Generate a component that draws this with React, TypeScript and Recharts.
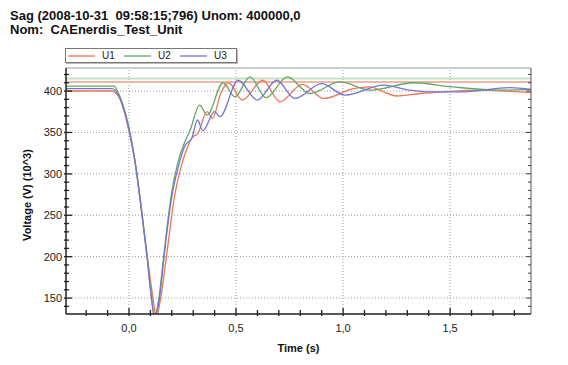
import React from 'react';
import { LineChart, Line, XAxis, YAxis, ReferenceLine, Legend } from 'recharts';

const FONT = "'Liberation Sans', Arial, sans-serif";

const titleLine1 = 'Sag (2008-10-31  09:58:15;796) Unom: 400000,0';
const titleLine2 = 'Nom:  CAEnerdis_Test_Unit';

// phase voltages (kV)
const u1Time = [-0.3, -0.08, -0.05, -0.03, 0, 0.03, 0.06, 0.09, 0.115, 0.128, 0.145, 0.17, 0.19, 0.21, 0.24, 0.27, 0.3, 0.32, 0.365, 0.39, 0.43, 0.465, 0.53, 0.625, 0.705, 0.81, 0.91, 1.05, 1.12, 1.25, 1.36, 1.47, 1.63, 1.88];
const u1Volt = [400, 400, 394, 382, 352, 312, 252, 192, 145, 127, 145, 190, 230, 268, 305, 330, 345, 348, 375, 367, 398, 410, 389, 413, 387, 408, 391, 403, 405, 394, 397, 399, 401, 398];

const u2Time = [-0.3, -0.07, -0.05, -0.03, 0, 0.03, 0.06, 0.085, 0.105, 0.118, 0.14, 0.16, 0.18, 0.2, 0.23, 0.26, 0.285, 0.33, 0.365, 0.44, 0.495, 0.565, 0.64, 0.74, 0.845, 0.985, 1.13, 1.33, 1.51, 1.73, 1.88];
const u2Volt = [406, 406, 398, 385, 356, 313, 255, 200, 152, 128, 150, 195, 240, 278, 315, 338, 352, 383, 371, 410, 393, 417, 392, 417, 397, 411, 401, 410, 405, 401, 402];

const u3Time = [-0.3, -0.08, -0.05, -0.03, 0, 0.03, 0.06, 0.085, 0.105, 0.12, 0.14, 0.16, 0.18, 0.2, 0.23, 0.26, 0.295, 0.32, 0.345, 0.4, 0.425, 0.51, 0.6, 0.69, 0.775, 0.9, 1.01, 1.19, 1.31, 1.39, 1.55, 1.78, 1.88];
const u3Volt = [403, 403, 396, 383, 354, 311, 253, 198, 150, 128, 145, 190, 235, 272, 308, 333, 344, 365, 352, 375, 369, 413, 389, 413, 391, 409, 395, 407, 401, 399, 399, 404, 402];

const timeTicks = [-0.2, -0.1, 0, 0.1, 0.2, 0.3, 0.4, 0.5, 0.6, 0.7, 0.8, 0.9, 1, 1.1, 1.2, 1.3, 1.4, 1.5, 1.6, 1.7, 1.8];
const timeGrid = [0, 0.5, 1, 1.5];
const voltTicks = [140, 150, 160, 170, 180, 190, 200, 210, 220, 230, 240, 250, 260, 270, 280, 290, 300, 310, 320, 330, 340, 350, 360, 370, 380, 390, 400, 410, 420];
const voltGrid = [150, 200, 250, 300, 350, 400];

// upper tolerance limits drawn by the recorder
const limitU1 = 411;
const limitU2 = 415;

const timeDomain = [-0.294, 1.878];
const voltDomain = [130.7, 427.8];

const series = [
  { name: 'U1', color: '#ef7453', time: u1Time, volt: u1Volt },
  { name: 'U2', color: '#62a862', time: u2Time, volt: u2Volt },
  { name: 'U3', color: '#7474d8', time: u3Time, volt: u3Volt },
];

const isMajor = (v: number, step: number) => Math.abs(v / step - Math.round(v / step)) < 1e-6;

// ticks point into the plot, longer where a label sits
const LeftTick = ({ x, y, payload }: any) => {
  const major = isMajor(payload.value, 50);
  return (
    <g>
      <rect x={x - 2} y={y - 0.6} width={major ? 8 : 5} height={1.3} fill="#222" />
      {major && (
        <text x={x - 4} y={y} dy={4} textAnchor="end" fontSize={11} fontFamily={FONT} fill="#222">
          {payload.value}
        </text>
      )}
    </g>
  );
};

const BottomTick = ({ x, y, payload }: any) => {
  const major = isMajor(payload.value, 0.5);
  return (
    <g>
      <rect x={x - 0.6} y={y - (major ? 6 : 4)} width={1.3} height={major ? 8 : 6} fill="#222" />
      {major && (
        <text x={x} y={y + 18} textAnchor="middle" fontSize={11} fontFamily={FONT} fill="#222">
          {payload.value.toFixed(1).replace('.', ',')}
        </text>
      )}
    </g>
  );
};

const TopTick = ({ x, y, payload }: any) => (
  <rect x={x - 0.5} y={y} width={1} height={isMajor(payload.value, 0.5) ? 5 : 3} fill="#555" />
);

const RightTick = ({ x, y, payload }: any) => {
  const len = isMajor(payload.value, 50) ? 5 : 3;
  return <rect x={x - len} y={y - 0.5} width={len} height={1} fill="#444" />;
};

const LegendBox = () => (
  <div
    style={{
      display: 'flex',
      alignItems: 'center',
      height: 13,
      border: '1px solid #777',
      boxShadow: '1px 1px 0 #bbb',
      background: '#fff',
      fontFamily: FONT,
      fontSize: 10,
      color: '#222',
      paddingLeft: 2,
    }}
  >
    {series.map((s) => (
      <span key={s.name} style={{ display: 'flex', alignItems: 'center', width: 57.5 }}>
        <svg width={27} height={6} style={{ marginRight: 7 }}>
          <line x1={0} x2={27} y1={3} y2={3} stroke={s.color} strokeWidth={1.3} />
        </svg>
        {s.name}
      </span>
    ))}
  </div>
);

const App = () => {
  return (
    <div style={{ position: 'absolute', left: 0, top: 0, width: 568, height: 365, background: '#fff' }}>
      <div style={{ position: 'absolute', left: 10, top: 9, fontFamily: FONT, fontSize: 13, fontWeight: 'bold', lineHeight: '14px', color: '#111', whiteSpace: 'pre' }}>
        <div>{titleLine1}</div>
        <div>{titleLine2}</div>
      </div>
      <LineChart width={568} height={365} margin={{ top: 67, right: 36, bottom: 0, left: 0 }}>
        <XAxis
          xAxisId="main"
          dataKey="t"
          type="number"
          domain={timeDomain}
          allowDataOverflow
          ticks={timeTicks}
          interval={0}
          tick={<BottomTick />}
          tickLine={false}
          tickSize={0}
          tickMargin={0}
          height={51}
          axisLine={{ stroke: '#222', strokeWidth: 1.5 }}
          label={{
            content: ({ viewBox }: any) => (
              <text x={viewBox.x + viewBox.width / 2} y={viewBox.y + 38} textAnchor="middle" fontSize={11} fontWeight="bold" fontFamily={FONT} fill="#111">
                Time (s)
              </text>
            ),
          }}
        />
        <XAxis
          xAxisId="top"
          orientation="top"
          type="number"
          domain={timeDomain}
          allowDataOverflow
          ticks={timeTicks}
          interval={0}
          tick={<TopTick />}
          tickLine={false}
          tickSize={0}
          tickMargin={0}
          height={1}
          axisLine={{ stroke: '#9a9a9a' }}
        />
        <YAxis
          yAxisId="main"
          type="number"
          domain={voltDomain}
          allowDataOverflow
          ticks={voltTicks}
          interval={0}
          tick={<LeftTick />}
          tickLine={false}
          tickSize={0}
          tickMargin={0}
          width={66}
          axisLine={{ stroke: '#222', strokeWidth: 1.5 }}
          label={{
            content: ({ viewBox }: any) => {
              const cx = viewBox.x + 31;
              const cy = viewBox.y + viewBox.height / 2 + 4;
              return (
                <text x={cx} y={cy} transform={`rotate(-90 ${cx} ${cy})`} textAnchor="middle" fontSize={11} fontWeight="bold" fontFamily={FONT} fill="#111">
                  Voltage (V) (10^3)
                </text>
              );
            },
          }}
        />
        <YAxis
          yAxisId="right"
          orientation="right"
          type="number"
          domain={voltDomain}
          allowDataOverflow
          ticks={voltTicks}
          interval={0}
          tick={<RightTick />}
          tickLine={false}
          tickSize={0}
          tickMargin={0}
          width={1}
          axisLine={{ stroke: '#555' }}
        />
        {timeGrid.map((t) => (
          <ReferenceLine key={'gx' + t} xAxisId="main" yAxisId="main" x={t} stroke="#9a9a9a" strokeDasharray="1 2" />
        ))}
        {voltGrid.map((v) => (
          <ReferenceLine key={'gy' + v} xAxisId="main" yAxisId="main" y={v} stroke="#9a9a9a" strokeDasharray="1 2" />
        ))}
        <ReferenceLine xAxisId="main" yAxisId="main" y={limitU2} stroke="#c3e2c3" strokeWidth={2} />
        <ReferenceLine xAxisId="main" yAxisId="main" y={limitU1} stroke="#f4b4a4" strokeWidth={2} />
        {series.map((s) => (
          <Line
            key={s.name}
            xAxisId="main"
            yAxisId="main"
            name={s.name}
            data={s.time.map((t, i) => ({ t, v: s.volt[i] }))}
            dataKey="v"
            type="monotone"
            stroke={s.color}
            strokeWidth={1.3}
            dot={false}
            isAnimationActive={false}
          />
        ))}
        <Legend
          layout="vertical"
          align="center"
          verticalAlign="middle"
          content={() => <LegendBox />}
          wrapperStyle={{ left: 65, top: 48, width: 172, height: 15 }}
        />
      </LineChart>
    </div>
  );
};

export default App;
